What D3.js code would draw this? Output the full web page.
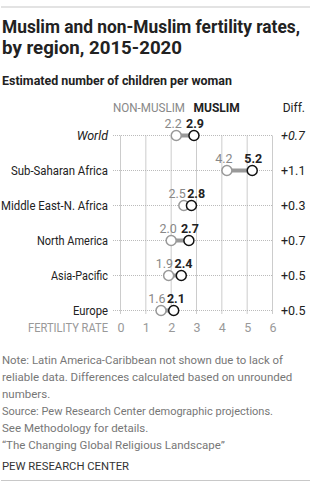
<!DOCTYPE html>
<html><head><meta charset="utf-8">
<script src="https://cdn.jsdelivr.net/npm/d3@7"></script>
<style>
html,body{margin:0;padding:0;background:#fff;}
svg{display:block;font-family:Roboto,"Noto Sans",Arial,sans-serif;}
</style></head>
<body>
<script>
const regions = ["World","Sub-Saharan Africa","Middle East-N. Africa","North America","Asia-Pacific","Europe"];
const nonMuslim = [2.2,4.2,2.5,2.0,1.9,1.6];
const muslim = [2.9,5.2,2.8,2.7,2.4,2.1];
const diffs = ["+0.7","+1.1","+0.3","+0.7","+0.5","+0.5"];
const tickValues = [0,1,2,3,4,5,6];
const titleLines = ["Muslim and non-Muslim fertility rates,","by region, 2015-2020"];
const subtitle = "Estimated number of children per woman";
const noteLines = ["Note: Latin America-Caribbean not shown due to lack of",
 "reliable data. Differences calculated based on unrounded",
 "numbers.",
 "Source: Pew Research Center demographic projections.",
 "See Methodology for details.",
 "\u201CThe Changing Global Religious Landscape\u201D"];

const rowLabelWidths = [38,97,107,71,57,35];

const W=310,H=491;
const svg=d3.select("body").append("svg").attr("width",W).attr("height",H);

function fit(sel,target,shrinkOnly){
  sel.each(function(){
    const w=this.getComputedTextLength();
    if(shrinkOnly && w<=target) return;
    if(Math.abs(w-target)>1){d3.select(this).attr("textLength",target).attr("lengthAdjust","spacingAndGlyphs");}
  });
}

// rules
svg.append("line").attr("x1",1).attr("x2",310).attr("y1",7).attr("y2",7).attr("stroke","#c8c8c8").attr("stroke-width",1.2);
svg.append("line").attr("x1",1).attr("x2",310).attr("y1",480.5).attr("y2",480.5).attr("stroke","#c8c8c8").attr("stroke-width",1.2);

// title
const tW=[298,180];
titleLines.forEach((t,i)=>{
  const el=svg.append("text").attr("x",2).attr("y",33+i*21).attr("font-size",17.5).attr("font-weight",700).attr("fill","#222").text(t);
  fit(el,tW[i]);
});
fit(svg.append("text").attr("x",2).attr("y",85).attr("font-size",12).attr("font-weight",700).attr("fill","#222").text(subtitle),230);

const x=d3.scaleLinear().domain([0,6]).range([120.5,272.5]);
const y=d3.scalePoint().domain(regions).range([135.5,310.5]);

// header
fit(svg.append("text").attr("x",113).attr("y",112).attr("font-size",12).attr("fill","#888").text("NON-MUSLIM"),72);
fit(svg.append("text").attr("x",193.5).attr("y",112).attr("font-size",12).attr("font-weight",700).attr("fill","#222").text("MUSLIM"),47);
svg.append("text").attr("x",305).attr("y",112).attr("text-anchor","end").attr("font-size",12).attr("fill","#222").text("Diff.");

// gridlines
svg.append("g").selectAll("line").data(tickValues).join("line")
  .attr("x1",d=>x(d)).attr("x2",d=>x(d)).attr("y1",y(regions[0])).attr("y2",314)
  .attr("stroke","#ccc").attr("stroke-width",1);

// row dotted lines
svg.append("g").selectAll("line").data(regions).join("line")
  .attr("x1",113).attr("x2",x(6)).attr("y1",d=>y(d)).attr("y2",d=>y(d))
  .attr("stroke","#aaa").attr("stroke-width",0.8).attr("stroke-dasharray","1,1");

// row labels
svg.append("g").selectAll("text").data(regions).join("text")
  .attr("x",108).attr("y",d=>y(d)+4.5).attr("text-anchor","end").attr("font-size",12.5)
  .attr("font-style",d=>d==="World"?"italic":"normal").attr("fill","#222").text(d=>d)
  .each(function(d,i){fit(d3.select(this),rowLabelWidths[i],true);});

// diffs
svg.append("g").selectAll("text").data(diffs).join("text")
  .attr("x",281).attr("y",(d,i)=>y(regions[i])+4.5).attr("font-size",12.5)
  .attr("font-style",(d,i)=>i===0?"italic":"normal").attr("fill","#222").text(d=>d);

// connectors
svg.append("g").selectAll("line").data(regions).join("line")
  .attr("x1",(d,i)=>x(nonMuslim[i])).attr("x2",(d,i)=>x(muslim[i]))
  .attr("y1",d=>y(d)).attr("y2",d=>y(d)).attr("stroke","#999").attr("stroke-width",4);

// circles
svg.append("g").selectAll("circle").data(regions).join("circle")
  .attr("cx",(d,i)=>x(nonMuslim[i])).attr("cy",d=>y(d)).attr("r",5)
  .attr("fill","#fff").attr("stroke","#999").attr("stroke-width",1.5);
svg.append("g").selectAll("circle").data(regions).join("circle")
  .attr("cx",(d,i)=>x(muslim[i])).attr("cy",d=>y(d)).attr("r",5)
  .attr("fill","#fff").attr("stroke","#111").attr("stroke-width",1.5);

// value labels with collision handling
const lw=15,gap=4;
regions.forEach((r,i)=>{
  let cn=x(nonMuslim[i])-3, cm=x(muslim[i])+1;
  const overlap=(cn+lw/2+gap)-(cm-lw/2);
  if(overlap>0){cn-=overlap/2;cm+=overlap/2;}
  svg.append("text").attr("x",cn).attr("y",y(r)-7.5).attr("text-anchor","middle").attr("font-size",12.5).attr("fill","#888").text(nonMuslim[i].toFixed(1));
  svg.append("text").attr("x",cm).attr("y",y(r)-7.5).attr("text-anchor","middle").attr("font-size",12.5).attr("font-weight",700).attr("fill","#222").text(muslim[i].toFixed(1));
});

// axis
const ax=svg.append("g").attr("transform","translate(0,323)")
  .call(d3.axisBottom(x).tickValues(tickValues).tickSize(0).tickPadding(0).tickFormat(d3.format("d")));
ax.select(".domain").remove();
ax.selectAll("text").attr("font-size",12.5).attr("fill","#999").attr("font-family","Roboto,'Noto Sans',Arial,sans-serif").attr("dy","0.72em");
fit(svg.append("text").attr("x",108).attr("y",332).attr("text-anchor","end").attr("font-size",12.5).attr("fill","#999").text("FERTILITY RATE"),80);

// notes
const nW=[281,290,null,271,null,null];
noteLines.forEach((t,i)=>{
  const el=svg.append("text").attr("x",2).attr("y",364+i*17).attr("font-size",11.5).attr("fill","#777").text(t);
  if(nW[i]) fit(el,nW[i]);
});
fit(svg.append("text").attr("x",2).attr("y",470).attr("font-size",11.5).attr("fill","#333").text("PEW RESEARCH CENTER"),127);
</script>
</body></html>
